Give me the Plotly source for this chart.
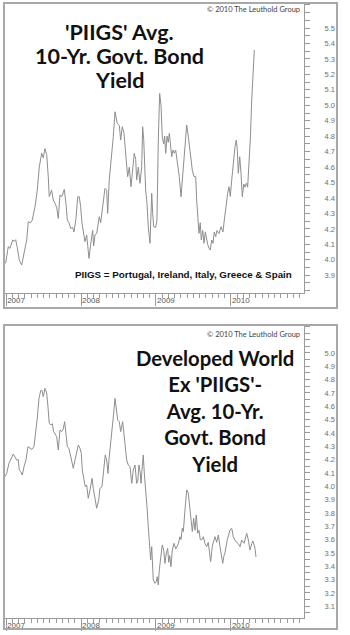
import plotly.graph_objects as go

# ---------------- data (decimal years, yield %) ----------------
piigs_t = [2006.993, 2007.028, 2007.051, 2007.087, 2007.108, 2007.127, 2007.148, 2007.175, 2007.207, 2007.238,
           2007.274, 2007.295, 2007.327, 2007.348, 2007.385, 2007.415, 2007.442, 2007.474, 2007.495, 2007.518,
           2007.541, 2007.562, 2007.575, 2007.607, 2007.629, 2007.652, 2007.674, 2007.696, 2007.718, 2007.745,
           2007.776, 2007.798, 2007.816, 2007.838, 2007.861, 2007.888, 2007.905, 2007.932, 2007.955, 2007.976,
           2007.995, 2008.012, 2008.029, 2008.052, 2008.075, 2008.088, 2008.105, 2008.128, 2008.155, 2008.168,
           2008.186, 2008.208, 2008.226, 2008.243, 2008.262, 2008.288, 2008.319, 2008.342, 2008.355, 2008.376,
           2008.409, 2008.430, 2008.453, 2008.483, 2008.510, 2008.529, 2008.550, 2008.573, 2008.599, 2008.622,
           2008.644, 2008.666, 2008.684, 2008.710, 2008.729, 2008.742, 2008.764, 2008.786, 2008.809, 2008.822,
           2008.836, 2008.844, 2008.862, 2008.880, 2008.897, 2008.920, 2008.933, 2008.943, 2008.956, 2008.969,
           2008.996, 2009.013, 2009.031, 2009.049, 2009.067, 2009.084, 2009.103, 2009.116, 2009.130, 2009.147,
           2009.164, 2009.178, 2009.191, 2009.210, 2009.227, 2009.244, 2009.263, 2009.290, 2009.311, 2009.334,
           2009.356, 2009.387, 2009.410, 2009.431, 2009.458, 2009.485, 2009.507, 2009.530, 2009.543, 2009.557,
           2009.574, 2009.591, 2009.605, 2009.624, 2009.641, 2009.659, 2009.677, 2009.690, 2009.708, 2009.725,
           2009.744, 2009.761, 2009.778, 2009.797, 2009.814, 2009.841, 2009.868, 2009.894, 2009.912, 2009.930,
           2009.957, 2009.975, 2009.992, 2010.011, 2010.032, 2010.055, 2010.072, 2010.086, 2010.099, 2010.118,
           2010.135, 2010.152, 2010.172, 2010.189, 2010.206, 2010.224, 2010.241, 2010.259, 2010.278, 2010.295,
           2010.313]
piigs_yield = [3.977, 4.085, 4.074, 4.128, 4.120, 4.130, 4.080, 3.998, 3.966, 4.050,
               4.128, 4.246, 4.240, 4.257, 4.343, 4.450, 4.600, 4.690, 4.660, 4.720,
               4.680, 4.538, 4.410, 4.450, 4.387, 4.365, 4.340, 4.268, 4.419, 4.410,
               4.456, 4.365, 4.257, 4.240, 4.203, 4.210, 4.180, 4.268, 4.408, 4.408,
               4.340, 4.238, 4.170, 4.117, 4.160, 4.110, 4.009, 4.100, 4.190, 4.090,
               4.160, 4.170, 4.214, 4.279, 4.240, 4.343, 4.462, 4.450, 4.300, 4.516,
               4.667, 4.796, 4.958, 4.883, 4.870, 4.775, 4.861, 4.820, 4.667, 4.538,
               4.600, 4.473, 4.560, 4.689, 4.650, 4.516, 4.600, 4.495, 4.600, 4.861,
               4.780, 4.624, 4.451, 4.365, 4.214, 4.107, 4.300, 4.430, 4.300, 4.214,
               4.210, 4.257, 4.775, 5.077, 5.000, 4.796, 4.750, 4.800, 4.689, 4.800,
               4.760, 4.818, 4.760, 4.667, 4.710, 4.690, 4.710, 4.620, 4.538, 4.408,
               4.540, 4.775, 4.872, 4.800, 4.689, 4.580, 4.538, 4.538, 4.387, 4.257,
               4.171, 4.240, 4.128, 4.190, 4.107, 4.180, 4.130, 4.100, 4.074, 4.063,
               4.128, 4.107, 4.180, 4.150, 4.190, 4.170, 4.214, 4.180, 4.257, 4.340,
               4.430, 4.473, 4.410, 4.516, 4.624, 4.732, 4.775, 4.710, 4.560, 4.667,
               4.560, 4.408, 4.490, 4.470, 4.495, 4.470, 4.624, 4.775, 5.034, 5.207,
               5.358]

dev_t = [2006.984, 2007.007, 2007.037, 2007.064, 2007.095, 2007.117, 2007.140, 2007.162, 2007.175, 2007.194,
         2007.215, 2007.238, 2007.264, 2007.291, 2007.318, 2007.344, 2007.371, 2007.394, 2007.415, 2007.438,
         2007.461, 2007.478, 2007.495, 2007.518, 2007.541, 2007.558, 2007.575, 2007.598, 2007.615, 2007.634,
         2007.661, 2007.674, 2007.696, 2007.718, 2007.741, 2007.762, 2007.781, 2007.798, 2007.816, 2007.838,
         2007.856, 2007.878, 2007.896, 2007.919, 2007.941, 2007.963, 2007.985, 2008.003, 2008.016, 2008.039,
         2008.056, 2008.075, 2008.096, 2008.119, 2008.146, 2008.163, 2008.182, 2008.208, 2008.235, 2008.252,
         2008.279, 2008.306, 2008.323, 2008.342, 2008.359, 2008.376, 2008.395, 2008.417, 2008.435, 2008.453,
         2008.470, 2008.489, 2008.510, 2008.529, 2008.555, 2008.573, 2008.590, 2008.609, 2008.630, 2008.653,
         2008.676, 2008.697, 2008.720, 2008.742, 2008.756, 2008.773, 2008.790, 2008.800, 2008.817, 2008.830,
         2008.844, 2008.862, 2008.880, 2008.897, 2008.916, 2008.929, 2008.943, 2008.951, 2008.964, 2008.987,
         2009.004, 2009.017, 2009.031, 2009.044, 2009.063, 2009.084, 2009.103, 2009.120, 2009.138, 2009.156,
         2009.170, 2009.183, 2009.200, 2009.218, 2009.240, 2009.263, 2009.280, 2009.298, 2009.320, 2009.334,
         2009.351, 2009.365, 2009.387, 2009.410, 2009.431, 2009.450, 2009.467, 2009.485, 2009.503, 2009.521,
         2009.538, 2009.557, 2009.574, 2009.591, 2009.610, 2009.632, 2009.654, 2009.677, 2009.698, 2009.721,
         2009.730, 2009.752, 2009.770, 2009.788, 2009.810, 2009.832, 2009.854, 2009.872, 2009.891, 2009.908,
         2009.921, 2009.952, 2009.975, 2009.988, 2010.011, 2010.032, 2010.064, 2010.099, 2010.122, 2010.144,
         2010.175, 2010.211, 2010.232, 2010.255, 2010.278, 2010.295, 2010.322, 2010.335]
dev_yield = [4.072, 4.097, 4.172, 4.210, 4.242, 4.220, 4.197, 4.200, 4.122, 4.110,
             4.085, 4.147, 4.197, 4.297, 4.285, 4.277, 4.297, 4.397, 4.510, 4.660,
             4.717, 4.720, 4.672, 4.735, 4.700, 4.597, 4.472, 4.460, 4.470, 4.410,
             4.390, 4.372, 4.272, 4.422, 4.410, 4.430, 4.485, 4.400, 4.297, 4.285,
             4.235, 4.172, 4.135, 4.197, 4.247, 4.310, 4.285, 4.247, 4.122, 4.047,
             3.997, 4.010, 3.910, 3.970, 4.060, 3.985, 3.910, 3.835, 3.897, 3.985,
             3.997, 4.122, 4.235, 4.197, 4.097, 4.220, 4.347, 4.435, 4.547, 4.660,
             4.600, 4.497, 4.485, 4.410, 4.485, 4.372, 4.260, 4.197, 4.160, 4.147,
             4.022, 4.122, 4.160, 4.022, 4.035, 4.160, 4.100, 4.022, 4.147, 4.235,
             4.100, 3.997, 3.847, 3.697, 3.547, 3.447, 3.547, 3.397, 3.297, 3.272,
             3.285, 3.322, 3.260, 3.372, 3.472, 3.560, 3.522, 3.422, 3.500, 3.535,
             3.430, 3.480, 3.397, 3.522, 3.572, 3.530, 3.547, 3.570, 3.622, 3.600,
             3.685, 3.660, 3.822, 3.972, 3.950, 3.860, 3.747, 3.660, 3.760, 3.670,
             3.785, 3.647, 3.670, 3.600, 3.597, 3.622, 3.570, 3.547, 3.580, 3.490,
             3.435, 3.550, 3.600, 3.622, 3.580, 3.635, 3.550, 3.470, 3.422, 3.480,
             3.500, 3.600, 3.650, 3.672, 3.685, 3.622, 3.585, 3.570, 3.547, 3.597,
             3.572, 3.647, 3.600, 3.522, 3.570, 3.590, 3.535, 3.470]

year_ticks = [2007, 2008, 2009, 2010]
year_labels = ["2007", "2008", "2009", "2010"]

piigs_yticks = [3.9, 4.0, 4.1, 4.2, 4.3, 4.4, 4.5, 4.6, 4.7, 4.8, 4.9, 5.0, 5.1, 5.2, 5.3, 5.4, 5.5]
piigs_ylabels = ["3.9", "4.0", "4.1", "4.2", "4.3", "4.4", "4.5", "4.6", "4.7", "4.8", "4.9",
                 "5.0", "5.1", "5.2", "5.3", "5.4", "5.5"]
dev_yticks = [3.1, 3.2, 3.3, 3.4, 3.5, 3.6, 3.7, 3.8, 3.9, 4.0, 4.1, 4.2, 4.3, 4.4, 4.5, 4.6, 4.7, 4.8, 4.9, 5.0]
dev_ylabels = ["3.1", "3.2", "3.3", "3.4", "3.5", "3.6", "3.7", "3.8", "3.9", "4.0", "4.1", "4.2",
               "4.3", "4.4", "4.5", "4.6", "4.7", "4.8", "4.9", "5.0"]

piigs_title_lines = ["'PIIGS' Avg.", "10-Yr. Govt. Bond", "Yield"]
dev_title = "Developed World<br>Ex 'PIIGS'-<br>Avg. 10-Yr.<br>Govt. Bond<br>Yield"
copyright_text = "© 2010 The Leuthold Group"
note_text = "PIIGS = Portugal, Ireland, Italy, Greece & Spain"

# ---------------- figure ----------------
W, H = 350, 635
LINE = "#8e8e8e"
AX = "#9a9a9a"

def px_x(p):
    return p / W

def px_y(p):
    return 1 - p / H

fig = go.Figure()
fig.add_trace(go.Scatter(x=piigs_t, y=piigs_yield, mode="lines",
                         line=dict(color=LINE, width=1), xaxis="x", yaxis="y",
                         hoverinfo="skip", showlegend=False))
fig.add_trace(go.Scatter(x=dev_t, y=dev_yield, mode="lines",
                         line=dict(color=LINE, width=1), xaxis="x2", yaxis="y2",
                         hoverinfo="skip", showlegend=False))

xcommon = dict(
    range=[2006.971, 2010.976], showgrid=False, zeroline=False,
    showline=True, linecolor=AX, linewidth=1,
    tickmode="array", tickvals=year_ticks, ticktext=year_labels,
    ticks="outside", ticklen=12, tickcolor=AX, tickwidth=1,
    ticklabelposition="outside right", ticklabelstandoff=-1,
    tickfont=dict(family="Liberation Sans, Arial", size=8, color="#555555"),
    minor=dict(tickmode="linear", tick0=2007, dtick=1/12, ticks="outside",
               ticklen=4, tickcolor=AX, tickwidth=1, showgrid=False),
    fixedrange=True,
)
ycommon = dict(
    side="right", showgrid=False, zeroline=False,
    showline=True, linecolor=AX, linewidth=1,
    tickmode="array", ticks="outside", ticklen=5, tickcolor=AX, tickwidth=1,
    ticklabelstandoff=13,
    tickfont=dict(family="Liberation Sans, Arial", size=7.5, color="#707070"),
    minor=dict(tickmode="linear", tick0=3.0, dtick=0.05, ticks="outside",
               ticklen=5, tickcolor=AX, tickwidth=1, showgrid=False),
    fixedrange=True,
)

fig.update_layout(
    width=W, height=H, margin=dict(l=0, r=0, t=0, b=0),
    paper_bgcolor="white", plot_bgcolor="white", showlegend=False,
    xaxis=dict(xcommon, domain=[px_x(4), px_x(304)], anchor="y"),
    yaxis=dict(ycommon, domain=[px_y(293), px_y(3)], anchor="x",
               range=[3.785, 5.662], tickvals=piigs_yticks, ticktext=piigs_ylabels),
    xaxis2=dict(xcommon, domain=[px_x(4), px_x(304)], anchor="y2"),
    yaxis2=dict(ycommon, domain=[px_y(618), px_y(325)], anchor="x2",
                range=[3.012, 5.21], tickvals=dev_yticks, ticktext=dev_ylabels),
)

frame = dict(type="rect", xref="paper", yref="paper", line=dict(color="#a8a8a8", width=2),
             fillcolor="rgba(0,0,0,0)", layer="above")
fig.add_shape(frame, x0=px_x(4), x1=px_x(337), y0=px_y(308), y1=px_y(3))
fig.add_shape(frame, x0=px_x(4), x1=px_x(337), y0=px_y(629), y1=px_y(325))

title_font = dict(family="Lato, Noto Sans", size=21.5, color="#111111", weight="bold")
for line_text, yc in zip(piigs_title_lines, [32, 56, 80]):
    fig.add_annotation(text=line_text, xref="paper", yref="paper",
                       x=px_x(119), y=px_y(yc), xanchor="center", yanchor="middle",
                       showarrow=False, font=title_font)
fig.add_annotation(text=dev_title,
                   xref="paper", yref="paper", x=px_x(215), y=px_y(411), xanchor="center",
                   yanchor="middle", align="center", showarrow=False,
                   font=dict(title_font, size=20.3))
copy_font = dict(family="Lato, Noto Sans", size=7.5, color="#444444")
fig.add_annotation(text=copyright_text, xref="paper", yref="paper",
                   x=px_x(302), y=px_y(10), xanchor="right", yanchor="middle",
                   showarrow=False, font=copy_font)
fig.add_annotation(text=copyright_text, xref="paper", yref="paper",
                   x=px_x(302), y=px_y(334), xanchor="right", yanchor="middle",
                   showarrow=False, font=copy_font)
fig.add_annotation(text=note_text, xref="paper", yref="paper",
                   x=px_x(294), y=px_y(274), xanchor="right", yanchor="middle",
                   showarrow=False,
                   font=dict(family="Liberation Sans, Arial", size=9.8, color="#111111", weight="bold"))

fig.write_html("out.html", config={"displayModeBar": False})
